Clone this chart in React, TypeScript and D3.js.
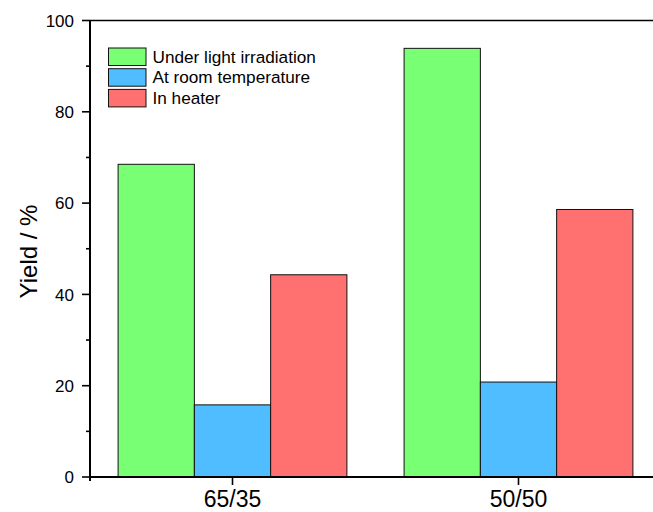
import React from "react";
import * as d3 from "d3";

const categories = ["65/35", "50/50"];
const seriesNames = ["Under light irradiation", "At room temperature", "In heater"];
const underLight = [68.5, 93.9];
const roomTemp = [15.8, 20.8];
const inHeater = [44.3, 58.6];
const yTicks = [0, 20, 40, 60, 80, 100];
const yMinorTicks = [10, 30, 50, 70, 90];
const colors = ["#79FF73", "#4FBDFF", "#FF7070"];

export default function App() {
  const W = 653, H = 512;
  const left = 90, top = 20.5, bottom = 477;
  const y = d3.scaleLinear().domain([0, 100]).range([bottom, top]);
  const x = d3.scaleBand().domain(categories).range([89.5, 661.5]).padding(0);
  const bw = x.bandwidth();
  const inner = d3.scaleBand().domain(seriesNames).range([bw * 0.1, bw * 0.9]).padding(0);
  const values = [underLight, roomTemp, inHeater];
  const font = "Arial, 'Liberation Sans', sans-serif";

  return (
    <svg width={W} height={H} style={{ position: "absolute", left: 0, top: 0, display: "block" }} fontFamily={font}>
      <rect x={0} y={0} width={W} height={H} fill="white" />
      {categories.map((c, ci) =>
        seriesNames.map((s, si) => (
          <rect
            key={c + s}
            x={(x(c) as number) + (inner(s) as number)}
            y={y(values[si][ci])}
            width={inner.bandwidth()}
            height={y(0) - y(values[si][ci])}
            fill={colors[si]}
            stroke="#111"
            strokeWidth={1}
          />
        ))
      )}
      {/* axes */}
      <line x1={left} x2={W} y1={top} y2={top} stroke="black" strokeWidth={1.6} />
      <line x1={left} x2={W} y1={bottom} y2={bottom} stroke="black" strokeWidth={2} />
      <line x1={left} x2={left} y1={top} y2={bottom + 4} stroke="black" strokeWidth={2} />
      {yTicks.map((t) => (
        <g key={t}>
          <line x1={left - 8} x2={left} y1={y(t)} y2={y(t)} stroke="black" strokeWidth={1.6} />
          <text x={left - 16} y={y(t)} dy="0.36em" textAnchor="end" fontSize={17}>
            {t}
          </text>
        </g>
      ))}
      {yMinorTicks.map((t) => (
        <line key={t} x1={left - 4} x2={left} y1={y(t)} y2={y(t)} stroke="black" strokeWidth={1.6} />
      ))}
      {categories.map((c) => {
        const cx = (x(c) as number) + bw / 2;
        return (
          <g key={c}>
            <line x1={cx} x2={cx} y1={bottom} y2={bottom + 8} stroke="black" strokeWidth={1.6} />
            <text x={cx} y={507} textAnchor="middle" fontSize={23}>
              {c}
            </text>
          </g>
        );
      })}
      <text transform={`translate(36.5,251.5) rotate(-90)`} textAnchor="middle" fontSize={24}>
        Yield / %
      </text>
      {/* legend */}
      {seriesNames.map((s, i) => (
        <g key={s}>
          <rect x={108.5} y={48 + i * 20.7} width={37.5} height={17.5} fill={colors[i]} stroke="#111" strokeWidth={1} />
          <text x={152.5} y={62.5 + i * 20.7} fontSize={17.2}>
            {s}
          </text>
        </g>
      ))}
    </svg>
  );
}
